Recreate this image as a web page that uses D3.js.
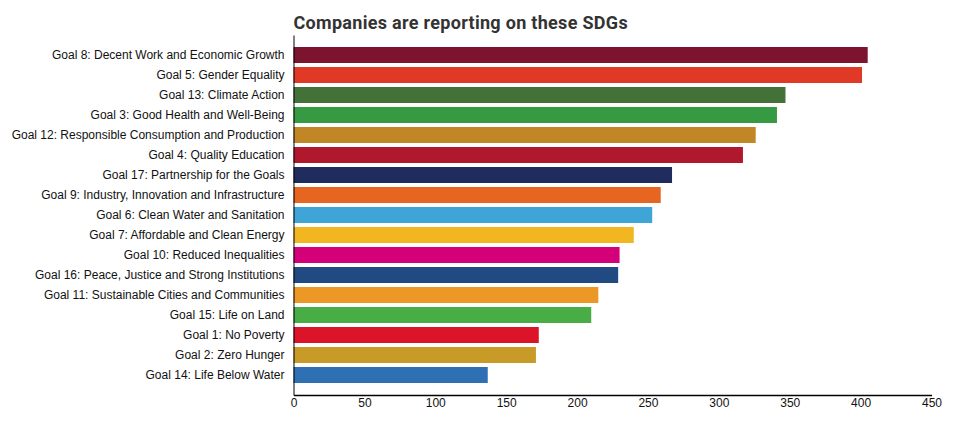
<!DOCTYPE html>
<html>
<head>
<meta charset="utf-8">
<script src="https://cdn.jsdelivr.net/npm/d3@7"></script>
<style>
html,body{margin:0;padding:0;background:#fff;}
svg{display:block;}
</style>
</head>
<body>
<svg id="chart" width="964" height="429"></svg>
<script>
const goals = [
  "Goal 8: Decent Work and Economic Growth",
  "Goal 5: Gender Equality",
  "Goal 13: Climate Action",
  "Goal 3: Good Health and Well-Being",
  "Goal 12: Responsible Consumption and Production",
  "Goal 4: Quality Education",
  "Goal 17: Partnership for the Goals",
  "Goal 9: Industry, Innovation and Infrastructure",
  "Goal 6: Clean Water and Sanitation",
  "Goal 7: Affordable and Clean Energy",
  "Goal 10: Reduced Inequalities",
  "Goal 16: Peace, Justice and Strong Institutions",
  "Goal 11: Sustainable Cities and Communities",
  "Goal 15: Life on Land",
  "Goal 1: No Poverty",
  "Goal 2: Zero Hunger",
  "Goal 14: Life Below Water"
];
const companies = [405, 401, 347, 341, 326, 317, 267, 259, 253, 240, 230, 229, 215, 210, 173, 171, 137];
const goalColors = [
  "#7c1430", "#e03a26", "#437239", "#369a43", "#c18727", "#b0182e",
  "#212c5e", "#e56521", "#3fa5d6", "#f2b620", "#d3007a", "#224a82",
  "#ec9826", "#48ad45", "#dc1429", "#c89b28", "#2f6fb4"
];
const xTicks = [0, 50, 100, 150, 200, 250, 300, 350, 400, 450];
const title = "Companies are reporting on these SDGs";

const svg = d3.select("#chart");
const mLeft = 293.5, mRight = 931.5, mTop = 35, mBottom = 395;

const x = d3.scaleLinear().domain([0, 450]).range([mLeft, mRight]);
const y = d3.scaleBand().domain(goals).range([mTop, mBottom]).paddingInner(0.2).paddingOuter(0.6);

const data = goals.map((g, i) => ({goal: g, value: companies[i], color: goalColors[i]}));

svg.append("g").selectAll("rect").data(data).join("rect")
  .attr("x", x(0))
  .attr("y", d => y(d.goal))
  .attr("width", d => x(d.value) - x(0))
  .attr("height", y.bandwidth())
  .attr("fill", d => d.color);

const xAxis = svg.append("g")
  .attr("transform", `translate(0,${mBottom})`)
  .call(d3.axisBottom(x).tickValues(xTicks).tickSize(0).tickPadding(3).tickSizeOuter(0));
xAxis.select(".domain").attr("stroke", "#000").attr("stroke-width", 1.5);
xAxis.selectAll("text").attr("font-family", "'Liberation Sans', Arial, sans-serif").attr("font-size", "12px").attr("fill", "#111");

const yAxis = svg.append("g")
  .attr("transform", `translate(${mLeft},0)`)
  .call(d3.axisLeft(y).tickSize(0).tickPadding(9).tickSizeOuter(0));
yAxis.select(".domain").attr("stroke", "#000").attr("stroke-width", 1);
yAxis.selectAll("text").attr("font-family", "'Liberation Sans', Arial, sans-serif").attr("font-size", "12px").attr("fill", "#111");

svg.append("text")
  .attr("x", mLeft)
  .attr("y", 29)
  .attr("font-family", "Roboto, sans-serif")
  .attr("font-weight", 700)
  .attr("font-size", "18px")
  .attr("letter-spacing", "0.3px")
  .attr("fill", "#333")
  .text(title);
</script>
</body>
</html>
